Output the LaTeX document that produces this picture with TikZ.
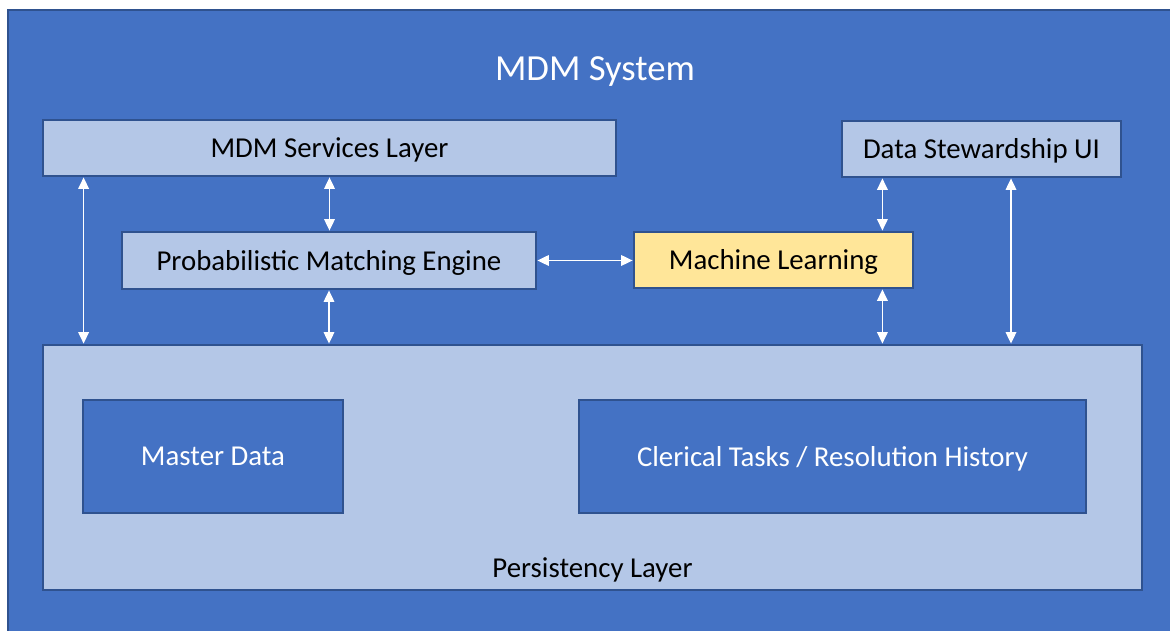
\documentclass[tikz,border=0pt]{standalone}
\usepackage{fontspec}
\setmainfont{Carlito}
\usetikzlibrary{arrows.meta,calc}
\definecolor{mdmblue}{HTML}{4472C4}
\definecolor{mdmlight}{HTML}{B4C7E7}
\definecolor{mdmedge}{HTML}{2F528F}
\definecolor{mdmyellow}{HTML}{FFE699}

\begin{document}
\begin{tikzpicture}[>={Triangle[width=6pt,length=6.5pt]},
  layer/.style={draw=mdmedge,line width=1.6pt,fill=mdmlight,inner sep=0pt,
    font=\fontsize{16.4}{19}\selectfont,text depth=0pt},
  store/.style={layer,fill=mdmblue,text=white},
  link/.style={<->,white,line width=0.9pt}]
  \useasboundingbox (0,0) rectangle (23.4,12.62);
  \clip (0,0) rectangle (23.4,12.62);
  \fill[white] (0,0) rectangle (23.4,12.62);
  \draw[draw=mdmedge,line width=1.6pt,fill=mdmblue] (0.16,12.42) rectangle (24,-1);
  \node[white,font=\fontsize{20.9}{24}\selectfont] (title) at (11.9,11.18) {MDM System};
  % upper boxes
  \node[layer,minimum width=11.46cm,minimum height=1.12cm] (services) at (6.59,9.66) {MDM Services Layer};
  \node[layer,minimum width=5.58cm,minimum height=1.12cm] (dsui) at (19.63,9.64) {Data Stewardship UI};
  \node[layer,minimum width=8.28cm,minimum height=1.14cm] (pme) at (6.58,7.41) {Probabilistic Matching Engine};
  \node[layer,fill=mdmyellow,minimum width=5.58cm,minimum height=1.12cm] (ml) at (15.47,7.42) {Machine Learning};
  % persistency
  \node[layer,minimum width=21.98cm,minimum height=4.9cm] (persist) at (11.85,3.27) {};
  \node[font=\fontsize{16.4}{19}\selectfont] (plabel) at (11.85,1.22) {Persistency Layer};
  \node[store,minimum width=5.2cm,minimum height=2.26cm] (master) at (4.26,3.49) {Master Data};
  \node[store,minimum width=10.14cm,minimum height=2.26cm] (clerical) at (16.65,3.49) {Clerical Tasks / Resolution History};
  % connectors
  \coordinate (sleft) at ([xshift=0.84cm]services.south west);
  \coordinate (mlx) at ([xshift=-0.64cm]ml.north east);
  \coordinate (dright) at ([xshift=0.59cm]dsui.south);
  \draw[link] (sleft) -- (sleft |- persist.north);
  \draw[link] (services.south) -- (services.south |- pme.north);
  \draw[link] (pme.south) -- (pme.south |- persist.north);
  \draw[link] (pme.east) -- (pme.east -| ml.west);
  \draw[link] (mlx |- dsui.south) -- (mlx);
  \draw[link] (mlx |- ml.south) -- (mlx |- persist.north);
  \draw[link] (dright) -- (dright |- persist.north);
\end{tikzpicture}
\end{document}
